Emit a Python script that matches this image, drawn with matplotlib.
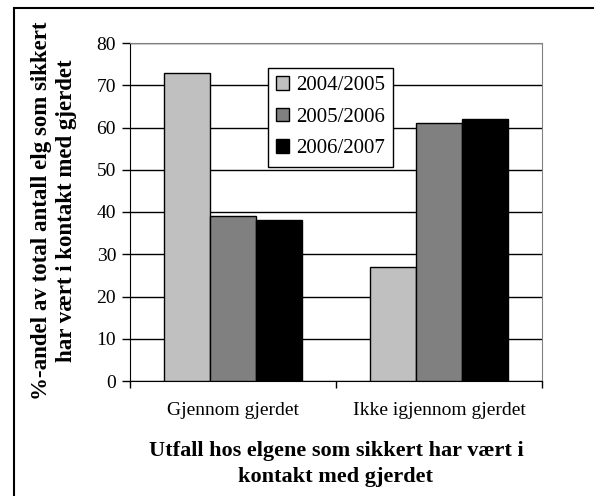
#!/usr/bin/env python3

import numpy as np
import matplotlib
matplotlib.use('Agg')
import matplotlib.pyplot as plt
from matplotlib.patches import Rectangle
from matplotlib.transforms import Bbox, TransformedBbox

categories = ['Gjennom gjerdet', 'Ikke igjennom gjerdet']
seasons = ['2004/2005', '2005/2006', '2006/2007']
v_0405 = [73, 27]
v_0506 = [39, 61]
v_0607 = [38, 62]
colors = ['#C0C0C0', '#808080', '#000000']

W, H = 594, 496


def main():
    plt.rcParams['font.family'] = ['Liberation Serif', 'DejaVu Serif']
    fig = plt.figure(figsize=(W / 100, H / 100), dpi=100)
    fig.patch.set_facecolor('white')

    # outer chart frame (cut at right and bottom like the reference)
    fig.patches.append(Rectangle((14 / W, -0.1), 1.2, (H - 8) / H + 0.1,
                                 transform=fig.transFigure, fill=False,
                                 edgecolor='black', linewidth=1.5))

    ax = fig.add_axes([130 / W, (H - 381) / H, (542 - 130) / W, (381 - 43) / H])

    x = np.arange(len(categories))
    w = 0.224
    for i, vals in enumerate([v_0405, v_0506, v_0607]):
        ax.bar(x + (i - 1) * w, vals, w, color=colors[i], edgecolor='black',
               linewidth=1.0, label=seasons[i], zorder=3)

    ax.set_ylim(0, 80)
    ax.set_yticks(range(0, 81, 10))
    ax.set_xlim(-0.5, 1.5)
    ax.set_xticks(x)
    ax.set_xticklabels(categories, fontsize=14)
    ax.set_xticks([-0.5, 0.5, 1.5], minor=True)
    ax.tick_params(axis='x', which='major', length=0, pad=15)
    ax.tick_params(axis='x', which='minor', length=5, width=1, direction='out')
    ax.tick_params(axis='y', length=6, width=1, direction='out', labelsize=14, pad=4)
    ax.yaxis.grid(True, color='black', linewidth=1, zorder=0)
    ax.set_axisbelow(True)
    for s in ['top', 'right']:
        ax.spines[s].set_color('#808080')
    for s in ['left', 'bottom']:
        ax.spines[s].set_color('black')

    ax.legend(loc='upper left', bbox_to_anchor=(0.335, 0.926), fontsize=15,
              frameon=True, fancybox=False, edgecolor='black', framealpha=1,
              handlelength=0.6, handleheight=0.6, handletextpad=0.35,
              labelspacing=0.6, borderpad=0.4, borderaxespad=0)

    yl = fig.text(54 / W, (H - 400) / H,
                  '%-andel av total antall elg som sikkert\nhar vært i kontakt med gjerdet',
                  rotation=90, ha='center', va='bottom', fontsize=16.5,
                  fontweight='bold', multialignment='center', linespacing=1.25)
    yl.set_clip_on(True)
    yl.set_clip_box(TransformedBbox(Bbox([[0, 0], [1, (H - 18) / H]]), fig.transFigure))

    fig.text(336 / W, (H - 464) / H,
             'Utfall hos elgene som sikkert har vært i\nkontakt med gjerdet',
             ha='center', va='center', fontsize=16, fontweight='bold',
             multialignment='center', linespacing=1.4)

    fig.savefig('out.png', dpi=100)


if __name__ == '__main__':
    main()
